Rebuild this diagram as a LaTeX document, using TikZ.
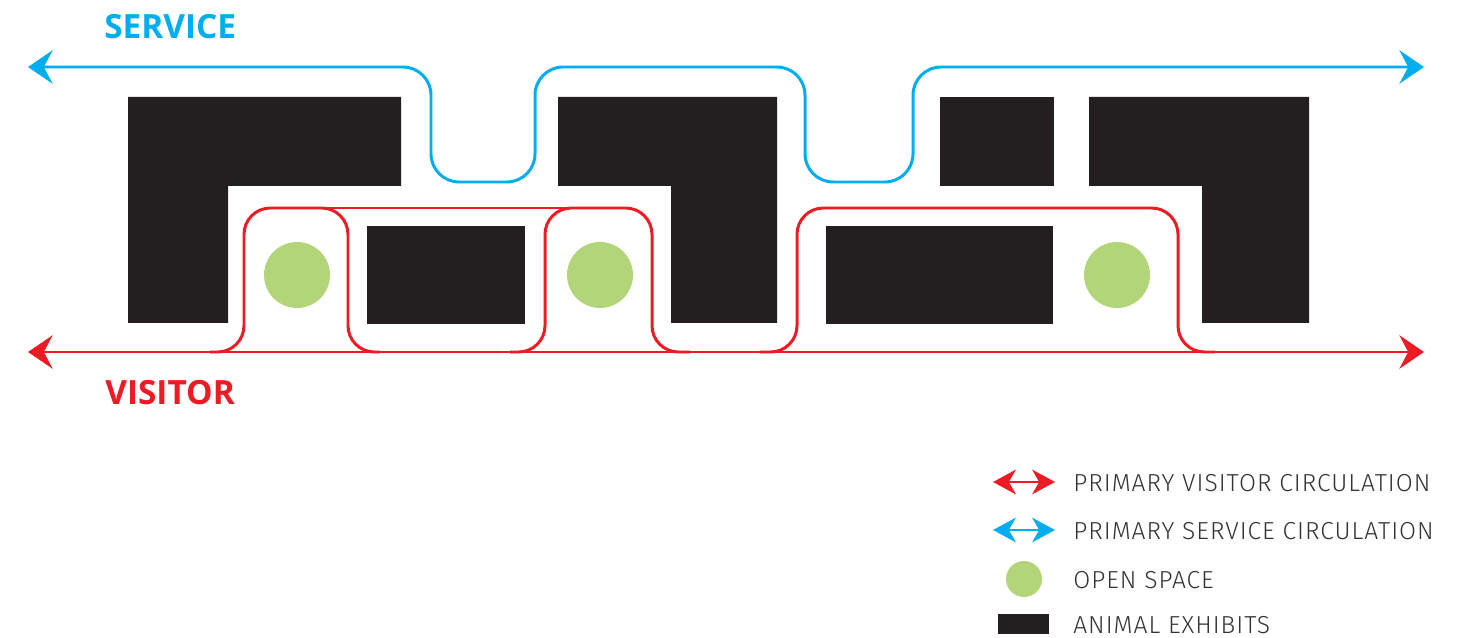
\documentclass[tikz,border=0pt]{standalone}
\usepackage{fontspec}
\setmainfont{Open Sans}
\newfontfamily\legendfont[LetterSpace=4]{Fira Sans Light}
\usetikzlibrary{arrows.meta}

\definecolor{visitorred}{HTML}{ED1C24}
\definecolor{serviceblue}{HTML}{00AEEF}
\definecolor{opengreen}{HTML}{B3D57A}
\definecolor{exhibitblack}{HTML}{231F20}
\definecolor{legendgrey}{HTML}{333333}

\tikzset{
  bothtips/.style={{Stealth[length=14pt,width=19pt,inset=5pt]}-{Stealth[length=14pt,width=19pt,inset=5pt]}},
  smalltips/.style={{Stealth[length=13pt,width=14pt,inset=4pt]}-{Stealth[length=13pt,width=14pt,inset=4pt]}}
}

\begin{document}
\begin{tikzpicture}[x=0.02cm,y=-0.02cm]
\tikzstyle{exhibit}=[fill=exhibitblack]
\tikzstyle{openspace}=[circle,fill=opengreen,minimum size=1.32cm,inner sep=0pt]
\tikzstyle{visitor}=[visitorred,line width=1.7pt,rounded corners=15pt]
\tikzstyle{service}=[serviceblue,line width=1.7pt,rounded corners=16pt]
\tikzstyle{bigword}=[anchor=west,font=\bfseries\fontsize{19}{22}\selectfont,inner sep=0pt]
\tikzstyle{legendtext}=[anchor=west,inner sep=0pt,text=legendgrey,font=\legendfont\fontsize{14}{16}\selectfont]
\useasboundingbox (0,0) rectangle (1460,638);

% animal exhibits
\fill[exhibit] (128,97) -- (401,97) -- (401,186) -- (228,186) -- (228,323) -- (128,323) -- cycle;
\fill[exhibit] (558,97) -- (777,97) -- (777,323) -- (671,323) -- (671,186) -- (558,186) -- cycle;
\fill[exhibit] (1089,97) -- (1309,97) -- (1309,323) -- (1202,323) -- (1202,186) -- (1089,186) -- cycle;
\fill[exhibit] (940,97) rectangle (1054,186);
\fill[exhibit] (367,226) rectangle (525,324);
\fill[exhibit] (826,226) rectangle (1053,324);

% open space
\node[openspace] (os1) at (297,275) {};
\node[openspace] (os2) at (600,275) {};
\node[openspace] (os3) at (1117,275) {};

% service circulation
\coordinate (sw) at (28,67);
\coordinate (se) at (1424,67);
\draw[service,bothtips] (sw) -- (431,67) -- (431,182) -- (535,182) -- (535,67)
  -- (805,67) -- (805,182) -- (913,182) -- (913,67) -- (se);
\node[bigword,text=serviceblue] (service) at (104,27) {SERVICE};

% visitor circulation
\coordinate (vw) at (28,352);
\coordinate (ve) at (1424,352);
\draw[visitorred,line width=1.7pt,bothtips] (vw) -- (ve);
\draw[visitor] (210,352) -- (244,352) -- (244,208) -- (348,208) -- (348,352) -- (380,352);
\draw[visitor] (300,208) -- (580,208);
\draw[visitor] (510,352) -- (545,352) -- (545,208) -- (652,208) -- (652,352) -- (690,352);
\draw[visitor] (760,352) -- (797,352) -- (797,208) -- (1178,208) -- (1178,352) -- (1215,352);
\node[bigword,text=visitorred] (visitor) at (105,393) {VISITOR};

% legend
\coordinate (l1a) at (993,482);
\coordinate (l1b) at (1055,482);
\coordinate (l2a) at (993,530);
\coordinate (l2b) at (1055,530);
\draw[visitorred,line width=1.5pt,smalltips] (l1a) -- (l1b);
\draw[serviceblue,line width=1.5pt,smalltips] (l2a) -- (l2b);
\node[circle,fill=opengreen,minimum size=0.72cm,inner sep=0pt] (lgreen) at (1024,579) {};
\fill[exhibit] (998,614) rectangle (1049,634);
\node[legendtext] (lt1) at (1073,483) {PRIMARY VISITOR CIRCULATION};
\node[legendtext] (lt2) at (1073,531) {PRIMARY SERVICE CIRCULATION};
\node[legendtext] (lt3) at (1073,580) {OPEN SPACE};
\node[legendtext] (lt4) at (1073,625) {ANIMAL EXHIBITS};
\end{tikzpicture}
\end{document}
